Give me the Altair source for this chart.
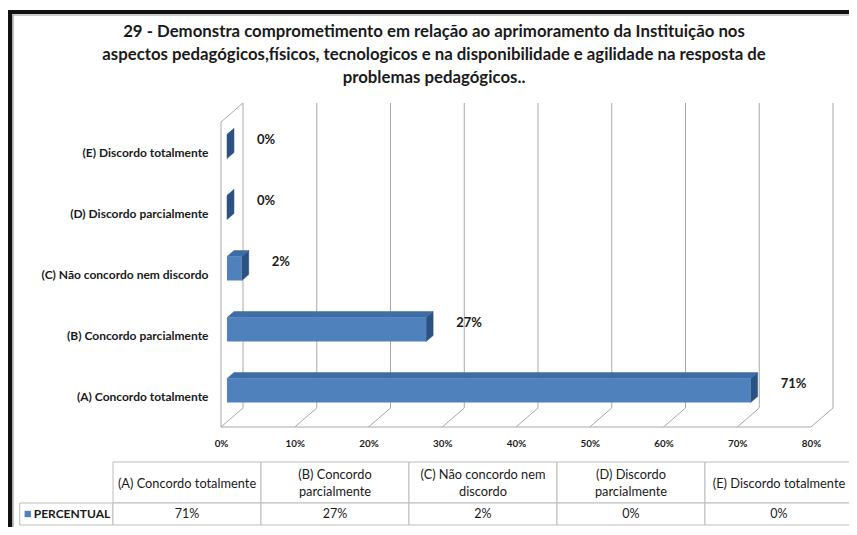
import json
import textwrap

import altair as alt
import pandas as pd

# ---------------- data ----------------
categories = [
    "(A) Concordo totalmente",
    "(B) Concordo parcialmente",
    "(C) Não concordo nem discordo",
    "(D) Discordo parcialmente",
    "(E) Discordo totalmente",
]
values = [71, 27, 2, 0, 0]
x_ticks = [0, 10, 20, 30, 40, 50, 60, 70, 80]
series_name = "PERCENTUAL"
title_lines = [
    "29 - Demonstra comprometimento em relação ao aprimoramento da Instituição nos",
    "aspectos pedagógicos,físicos, tecnologicos e na disponibilidade e agilidade na resposta de",
    "problemas pedagógicos..",
]

# ---------------- style / layout ----------------
FONT = "Lato"
W, H = 590, 305                 # front plane of the 3-D plot
PAD = {"left": 213, "top": 114, "right": 38, "bottom": 100}
X_MAX = 80
N = len(categories)
PX_PER_X = W / X_MAX
PX_PER_Y = H / N

WALL_DX, WALL_DY = 22, 19       # depth of the 3-D box (px)
BAR_SHIFT = 6                   # bars sit a little behind the front plane (px)
BAR_DX, BAR_DY = 7, 6           # bar depth (px)
BAR_HALF_PX = 12                # half height of bar face (px)

BLUE = "#4F81BD"
BLUE_TOP = "#3E6DA6"
BLUE_SIDE = "#2C5183"
GRID = "#A8A8A8"
TXT = "#1A1A1A"

dxu = BAR_DX / PX_PER_X
dyu = BAR_DY / PX_PER_Y
half = BAR_HALF_PX / PX_PER_Y

xs = alt.Scale(domain=[0, X_MAX], nice=False, zero=False)
ys = alt.Scale(domain=[0, N], nice=False, zero=False)

# ---------------- tables built from the lists ----------------
bars = pd.DataFrame({"cat": categories, "value": values,
                     "pos": [i + 0.5 for i in range(N)]})
bars["lo"] = bars["pos"] - half
bars["hi"] = bars["pos"] + half
bars["label"] = [f"{v}%" for v in values]

top_rows, side_rows = [], []
for c, v, lo, hi in zip(bars["cat"], bars["value"], bars["lo"], bars["hi"]):
    top_rows.append({"cat": c, "y": hi, "x": 0, "x2": v})
    top_rows.append({"cat": c, "y": hi + dyu, "x": dxu, "x2": v + dxu})
    side_rows.append({"cat": c, "x": v, "y": lo, "y2": hi})
    side_rows.append({"cat": c, "x": v + dxu, "y": lo + dyu, "y2": hi + dyu})
top_df = pd.DataFrame(top_rows)
side_df = pd.DataFrame(side_rows)
ticks_df = pd.DataFrame({"tick": x_ticks})
one = pd.DataFrame({"k": [0]})

x_axis = alt.Axis(values=x_ticks, labelExpr="datum.value + '%'", title=None,
                  domain=False, ticks=False, grid=False, labelPadding=11,
                  labelFont=FONT, labelFontSize=9.8, labelFontWeight="bold",
                  labelColor=TXT, labelFlush=False, labelOverlap=False)
y_axis = alt.Axis(values=[i + 0.5 for i in range(N)],
                  labelExpr=json.dumps(categories, ensure_ascii=False) + "[floor(datum.value)]",
                  title=None, domain=False, ticks=False, grid=False, labelPadding=13,
                  labelFont=FONT, labelFontSize=12, labelFontWeight="bold",
                  labelColor=TXT, labelFlush=False, labelOverlap=False)

# ---------------- 3-D walls ----------------
back_grid = alt.Chart(ticks_df).mark_rule(
    color=GRID, strokeWidth=1, xOffset=WALL_DX, yOffset=-WALL_DY, y2Offset=-WALL_DY
).encode(x=alt.X("tick:Q", scale=xs, axis=x_axis),
         y=alt.YDatum(0, scale=ys, axis=y_axis), y2=alt.Y2Datum(N))

floor_diag = alt.Chart(ticks_df).mark_rule(
    color=GRID, strokeWidth=1, x2Offset=WALL_DX, y2Offset=-WALL_DY
).encode(x=alt.X("tick:Q", scale=xs, axis=x_axis), x2="tick:Q",
         y=alt.YDatum(0, scale=ys, axis=y_axis), y2=alt.Y2Datum(0))

floor_front = alt.Chart(one).mark_rule(color=GRID, strokeWidth=1).encode(
    x=alt.XDatum(0, scale=xs, axis=x_axis), x2=alt.X2Datum(X_MAX),
    y=alt.YDatum(0, scale=ys, axis=y_axis))

wall_front = alt.Chart(one).mark_rule(color=GRID, strokeWidth=1).encode(
    x=alt.XDatum(0, scale=xs, axis=x_axis),
    y=alt.YDatum(0, scale=ys, axis=y_axis), y2=alt.Y2Datum(N))

wall_top = alt.Chart(one).mark_rule(
    color=GRID, strokeWidth=1, x2Offset=WALL_DX, y2Offset=-WALL_DY
).encode(x=alt.XDatum(0, scale=xs, axis=x_axis), x2=alt.X2Datum(0),
         y=alt.YDatum(N, scale=ys, axis=y_axis), y2=alt.Y2Datum(N))

# ---------------- 3-D bars ----------------
shift = dict(xOffset=BAR_SHIFT, x2Offset=BAR_SHIFT, yOffset=-BAR_SHIFT, y2Offset=-BAR_SHIFT)

side = alt.Chart(side_df).mark_area(
    orient="vertical", color=BLUE_SIDE, opacity=1, stroke=BLUE_SIDE, strokeWidth=0.5, **shift
).encode(x=alt.X("x:Q", scale=xs, axis=x_axis),
         y=alt.Y("y:Q", scale=ys, axis=y_axis, stack=None), y2="y2:Q",
         detail="cat:N")

top = alt.Chart(top_df).mark_area(
    orient="horizontal", color=BLUE_TOP, opacity=1, stroke=BLUE_TOP, strokeWidth=0.5, **shift
).encode(y=alt.Y("y:Q", scale=ys, axis=y_axis),
         x=alt.X("x:Q", scale=xs, axis=x_axis, stack=None), x2="x2:Q",
         detail="cat:N")

front = alt.Chart(bars).mark_bar(color=BLUE, opacity=1, **shift).encode(
    x=alt.X("value:Q", scale=xs, axis=x_axis), x2=alt.X2Datum(0),
    y=alt.Y("lo:Q", scale=ys, axis=y_axis), y2="hi:Q")

labels = alt.Chart(bars).mark_text(
    align="left", baseline="middle", dx=36, dy=-12.5, font=FONT,
    fontSize=13, fontWeight="bold", color=TXT
).encode(x=alt.X("value:Q", scale=xs, axis=x_axis),
         y=alt.Y("pos:Q", scale=ys, axis=y_axis), text="label:N")

main = alt.layer(back_grid, floor_diag, floor_front, wall_front, wall_top,
                 side, top, front, labels)

# ---------------- data table under the chart ----------------
HEADER_H, ROW_H = 41, 22
HEAD_LH = 17
LEGEND_COL = -0.63
tx = alt.Scale(domain=[0, N], range=[-108, 632], nice=False, zero=False)
ty = alt.Scale(domain=[0, HEADER_H + ROW_H], range=[340, 403], nice=False, zero=False)

cells = []
for i in range(N):
    cells.append({"x": i, "x2": i + 1, "y": 0, "y2": HEADER_H})
cells.append({"x": LEGEND_COL, "x2": 0, "y": HEADER_H, "y2": HEADER_H + ROW_H})
for i in range(N):
    cells.append({"x": i, "x2": i + 1, "y": HEADER_H, "y2": HEADER_H + ROW_H})
cells_df = pd.DataFrame(cells)

wrapped = [textwrap.wrap(c, 23) for c in categories]
head_df = pd.DataFrame({
    "x": [i + 0.5 for i in range(N)],
    "y": [HEADER_H / 2 + 1 - (len(w) - 1) * HEAD_LH / 2 for w in wrapped],
    "t": ["\n".join(w) for w in wrapped],
})
row_df = pd.DataFrame({"x": [i + 0.5 for i in range(N)],
                       "y": [HEADER_H + ROW_H / 2] * N,
                       "t": [f"{v}%" for v in values]})
leg_df = pd.DataFrame({"x": [LEGEND_COL], "y": [HEADER_H + ROW_H / 2], "t": [series_name]})

t_cells = alt.Chart(cells_df).mark_rect(fill="white", stroke="#BDBDBD", strokeWidth=1).encode(
    x=alt.X("x:Q", scale=tx, axis=None), x2="x2:Q",
    y=alt.Y("y:Q", scale=ty, axis=None), y2="y2:Q")
t_head = alt.Chart(head_df).mark_text(
    lineBreak="\n", lineHeight=HEAD_LH, font=FONT, fontSize=12.8, color=TXT,
    align="center", baseline="middle"
).encode(x=alt.X("x:Q", scale=tx, axis=None), y=alt.Y("y:Q", scale=ty, axis=None), text="t:N")
t_row = alt.Chart(row_df).mark_text(
    font=FONT, fontSize=12.5, color=TXT, align="center", baseline="middle"
).encode(x=alt.X("x:Q", scale=tx, axis=None), y=alt.Y("y:Q", scale=ty, axis=None), text="t:N")
t_sq = alt.Chart(leg_df).mark_square(size=40, color=BLUE, opacity=1, xOffset=8).encode(
    x=alt.X("x:Q", scale=tx, axis=None), y=alt.Y("y:Q", scale=ty, axis=None))
t_leg = alt.Chart(leg_df).mark_text(
    align="left", baseline="middle", dx=14, font=FONT, fontSize=12,
    fontWeight="bold", color=TXT
).encode(x=alt.X("x:Q", scale=tx, axis=None), y=alt.Y("y:Q", scale=ty, axis=None), text="t:N")

table = alt.layer(t_cells, t_head, t_row, t_sq, t_leg)

# ---------------- frame and title ----------------
frame_left = alt.Chart(one).mark_rule(color="#111111", strokeWidth=4.5).encode(
    x=alt.value(-211), y=alt.value(-112), y2=alt.value(405))
frame_left_in = alt.Chart(one).mark_rule(color="#9A9A9A", strokeWidth=1.2).encode(
    x=alt.value(-208), y=alt.value(-107), y2=alt.value(405))
frame_top = alt.Chart(one).mark_rule(color="#111111", strokeWidth=4).encode(
    x=alt.value(-213), x2=alt.value(628), y=alt.value(-110))
frame_top_in = alt.Chart(one).mark_rule(color="#9A9A9A", strokeWidth=1.2).encode(
    x=alt.value(-208), x2=alt.value(628), y=alt.value(-107))
title = alt.Chart(one).mark_text(
    text=title_lines, lineHeight=23, font=FONT, fontSize=16.8, fontWeight="bold",
    color=TXT, align="center", baseline="middle"
).encode(x=alt.value(213), y=alt.value(-90))

deco = alt.layer(frame_left, frame_left_in, frame_top, frame_top_in, title)

chart = alt.layer(main, table, deco).resolve_scale(
    x="independent", y="independent"
).properties(
    width=W, height=H,
    autosize=alt.AutoSizeParams(type="none"),
    padding=PAD,
    background="white",
).configure_view(stroke=None)

chart.save("out.html", embed_options={"renderer": "svg", "actions": False})
